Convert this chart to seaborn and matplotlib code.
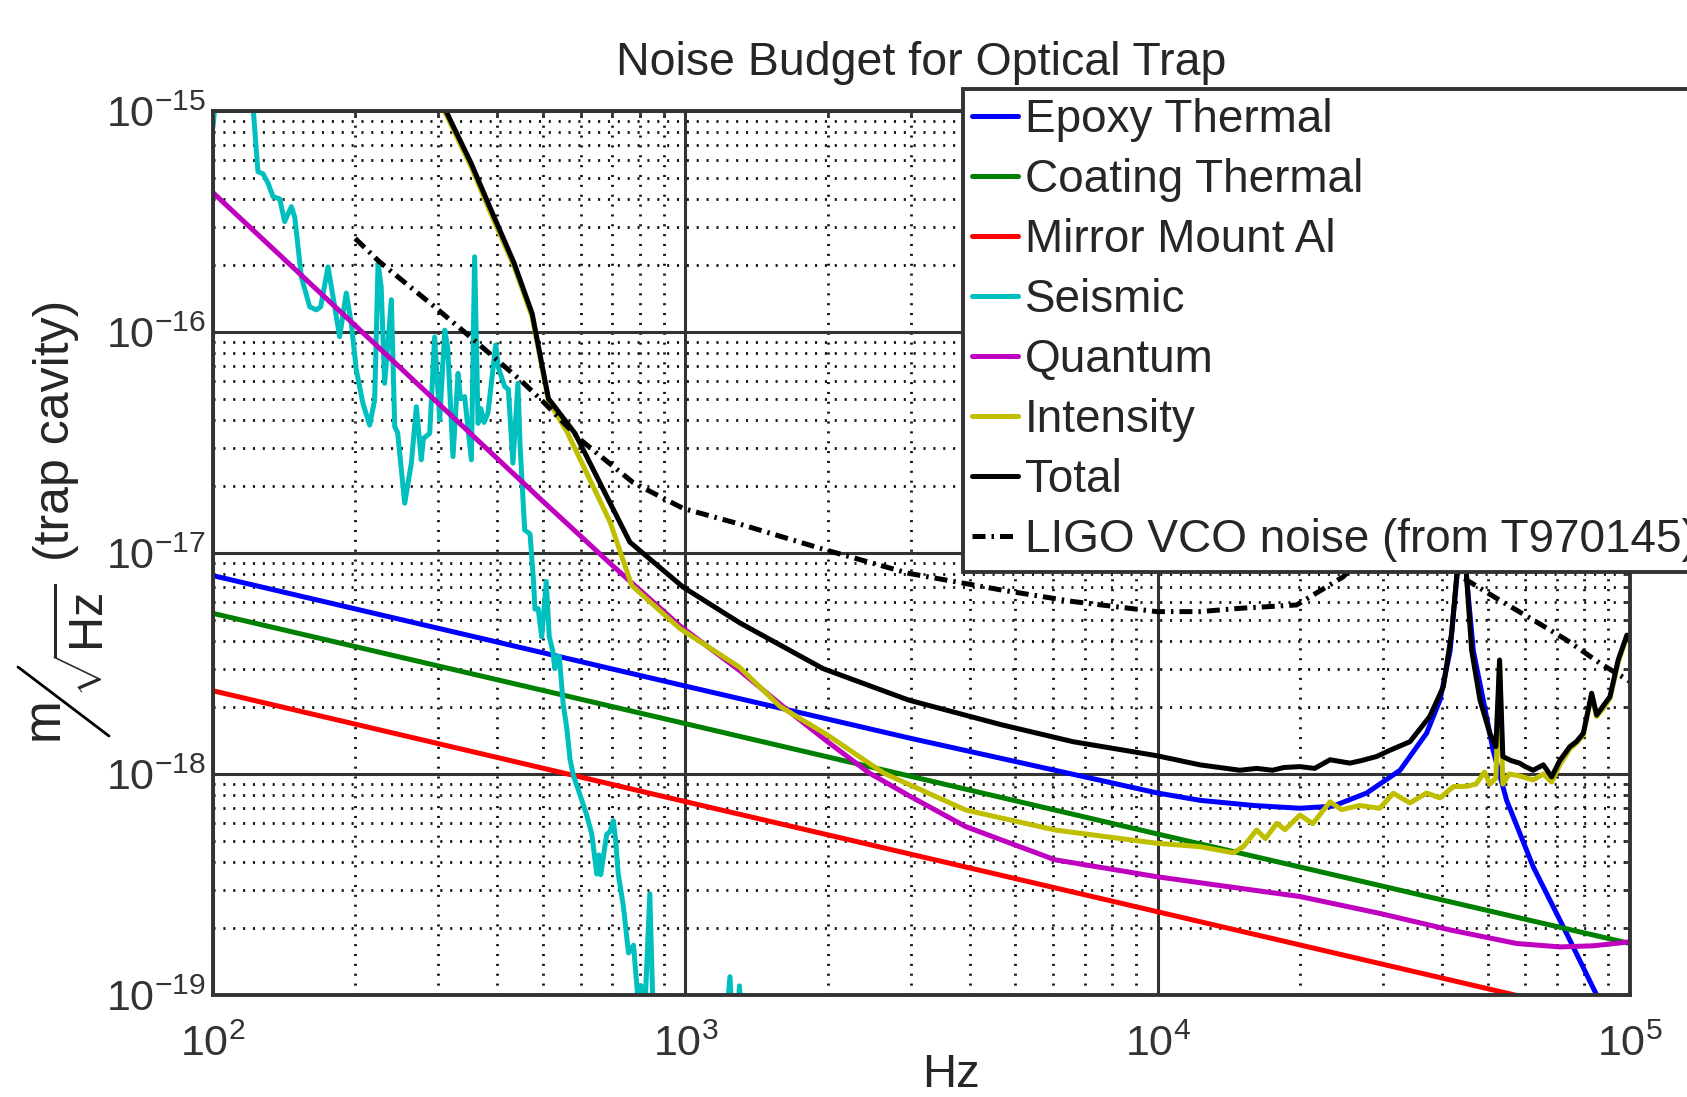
import matplotlib
matplotlib.use("Agg")
import matplotlib.pyplot as plt
import matplotlib.ticker as mticker
from matplotlib.lines import Line2D
import pandas as pd
import seaborn as sns

# values (Hz, m/rtHz)
freq_epoxy = [100, 1000, 3000, 10000, 12300, 16000, 20000, 23500, 27700, 32600, 37100,
              39600, 41600, 43000, 44000, 45100, 46600, 48900, 51300, 54800, 62400,
              73400, 85000, 100000]
epoxy = [7.9e-18, 2.5e-18, 1.45e-18, 8.2e-19, 7.6e-19, 7.2e-19, 7.0e-19, 7.15e-19, 8.2e-19,
         1.04e-18, 1.53e-18, 2.16e-18, 3.6e-18, 7.8e-18, 2.2e-17, 7.7e-18, 3.6e-18,
         2.16e-18, 1.28e-18, 7.6e-19, 3.8e-19, 1.9e-19, 1.0e-19, 5.5e-20]

freq_coating = [100, 1000, 10000, 100000]
coating = [5.33e-18, 1.69e-18, 5.35e-19, 1.71e-19]

freq_mirror = [100, 1000, 10000, 57000, 100000]
mirror = [2.38e-18, 7.5e-19, 2.38e-19, 1.0e-19, 7.5e-20]

freq_seismic = [100, 101.5, 121, 123.5, 124.5, 127.6, 130.8, 134, 138.4, 141.8, 146.5, 149,
                153.8, 160.2, 165.5, 169, 175.2, 181, 185.4, 191.5, 196.3, 201.1, 207.7,
                214.6, 219.9, 223.6, 227, 230.9, 238.6, 242.5, 246, 254.6, 263, 269.5, 276,
                279, 287.6, 294.6, 302, 309.5, 314, 322.2, 330.2, 334, 341, 352.4, 358, 364,
                369, 375, 382, 396.8, 402, 414.6, 422, 431.5, 442.2, 447, 457, 469, 476.5,
                480.5, 488, 496.5, 507.7, 515, 524.8, 529.2, 536, 541, 551.3, 561, 569.8,
                579, 598.4, 618, 634, 649.4, 656, 662, 681.6, 693, 704, 712, 721, 739, 758,
                776.7, 795.6, 806, 820, 841, 855, 900, 1200, 1243, 1270, 1302, 1330, 1400]
seismic = [8.5e-16, 1.2e-15, 1.2e-15, 6.66e-16, 5.31e-16, 5.2e-16, 4.71e-16, 4.1e-16, 4.0e-16,
           3.16e-16, 3.69e-16, 3.3e-16, 1.78e-16, 1.30e-16, 1.26e-16, 1.30e-16, 1.97e-16,
           1.30e-16, 9.53e-17, 1.50e-16, 1.09e-16, 6.73e-17, 4.75e-17, 3.79e-17, 4.92e-17,
           2.05e-16, 1.6e-16, 5.86e-17, 1.40e-16, 3.73e-17, 3.5e-17, 1.68e-17, 2.55e-17,
           4.59e-17, 2.64e-17, 3.3e-17, 3.48e-17, 9.5e-17, 4.0e-17, 1.02e-16, 8.5e-17,
           2.73e-17, 6.5e-17, 5.0e-17, 5.1e-17, 2.64e-17, 2.19e-16, 3.86e-17, 4.5e-17,
           3.9e-17, 4.3e-17, 8.73e-17, 6.9e-17, 5.66e-17, 5.5e-17, 2.55e-17, 5.86e-17,
           3.0e-17, 1.27e-17, 1.22e-17, 7.74e-18, 5.57e-18, 5.6e-18, 4.17e-18, 7.43e-18,
           4.2e-18, 3.54e-18, 3.0e-18, 3.4e-18, 3.4e-18, 2.07e-18, 1.62e-18, 1.17e-18,
           9.9e-19, 8.04e-19, 6.54e-19, 5.33e-19, 3.53e-19, 4.3e-19, 3.5e-19, 5.33e-19,
           5.5e-19, 6.15e-19, 5.0e-19, 3.53e-19, 2.54e-19, 1.55e-19, 1.68e-19, 9e-20,
           1.1e-19, 8e-20, 2.87e-19, 8e-20, 5e-20, 5e-20, 1.21e-19, 5e-20, 1.1e-19, 5e-20,
           5e-20]

freq_quantum = [100, 200, 300, 500, 700, 974, 1300, 1643, 2000, 2452, 3000, 3923, 6063, 9955,
                14930, 20010, 29530, 41590, 57540, 71100, 83700, 100000]
quantum = [4.27e-16, 1.07e-16, 4.75e-17, 1.71e-17, 8.8e-18, 4.68e-18, 2.95e-18, 1.95e-18,
           1.40e-18, 1.01e-18, 7.9e-19, 5.78e-19, 4.09e-19, 3.43e-19, 3.04e-19, 2.79e-19,
           2.34e-19, 1.97e-19, 1.71e-19, 1.65e-19, 1.67e-19, 1.74e-19]

freq_intensity = [280, 312, 352, 385, 434, 474, 513, 561, 638, 693, 770, 974, 1300, 1587,
                  2000, 2629, 3923, 6063, 9955, 12290, 14450, 15180, 16200, 16900, 17870,
                  18600, 20010, 21300, 23170, 24500, 26770, 29530, 31540, 34200, 37100,
                  39600, 42300, 45100, 47200, 49200, 50500, 52000, 52950, 53800, 55500,
                  58400, 62350, 65540, 68250, 71000, 74600, 77000, 79650, 82950, 85000,
                  88000, 90700, 94400, 98500, 100000]
intensity = [1.45e-15, 9.6e-16, 5.6e-16, 3.55e-16, 1.98e-16, 1.17e-16, 4.9e-17, 3.55e-17,
             2.0e-17, 1.38e-17, 7.13e-18, 4.55e-18, 3.05e-18, 2.02e-18, 1.5e-18, 1.01e-18,
             6.87e-19, 5.58e-19, 4.86e-19, 4.69e-19, 4.4e-19, 4.69e-19, 5.58e-19, 5.1e-19,
             5.98e-19, 5.6e-19, 6.52e-19, 5.96e-19, 7.48e-19, 6.9e-19, 7.2e-19, 7.0e-19,
             8.18e-19, 7.4e-19, 8.2e-19, 7.8e-19, 8.77e-19, 8.8e-19, 9.0e-19, 1.02e-18,
             9.0e-19, 9.6e-19, 3.2e-18, 9.0e-19, 1.0e-18, 9.8e-19, 9.4e-19, 1.0e-18,
             9.2e-19, 1.1e-18, 1.3e-18, 1.38e-18, 1.5e-18, 2.28e-18, 1.82e-18, 2.0e-18,
             2.2e-18, 3.2e-18, 4.2e-18, 3.95e-18]

freq_total = [280, 312, 352, 385, 434, 474, 513, 584, 682, 763, 990, 1306, 1956, 2970, 4672,
              6621, 9955, 12290, 14930, 16200, 17500, 18500, 20010, 21500, 23170, 25530,
              27000, 29080, 31020, 34200, 37670, 40250, 41900, 43000, 44000, 45080, 46200,
              48130, 50480, 52000, 52950, 53800, 56000, 58370, 60000, 62350, 65540, 68250,
              71000, 74600, 77000, 79650, 82950, 85000, 88000, 90700, 94400, 98500, 100000]
total = [1.5e-15, 9.9e-16, 5.8e-16, 3.7e-16, 2.05e-16, 1.21e-16, 5.0e-17, 3.48e-17, 1.80e-17,
         1.12e-17, 7.0e-18, 4.82e-18, 3.0e-18, 2.16e-18, 1.67e-18, 1.40e-18, 1.21e-18,
         1.1e-18, 1.04e-18, 1.06e-18, 1.04e-18, 1.07e-18, 1.08e-18, 1.06e-18, 1.16e-18,
         1.12e-18, 1.15e-18, 1.20e-18, 1.28e-18, 1.40e-18, 1.82e-18, 2.48e-18, 4.33e-18,
         8e-18, 2.2e-17, 7.8e-18, 3.64e-18, 2.16e-18, 1.53e-18, 1.33e-18, 3.28e-18, 1.2e-18,
         1.15e-18, 1.12e-18, 1.08e-18, 1.04e-18, 1.1e-18, 9.7e-19, 1.15e-18, 1.33e-18,
         1.4e-18, 1.53e-18, 2.32e-18, 1.85e-18, 2.05e-18, 2.24e-18, 3.28e-18, 4.25e-18,
         4.0e-18]

freq_vco = [200, 225, 292, 350, 447, 496, 598, 776, 990, 1306, 1990, 2970, 4672, 6621, 9955,
            12290, 14930, 19690, 24700, 30000, 37000, 44400, 52950, 62350, 73400, 86400,
            100000]
vco = [2.65e-16, 2.08e-16, 1.32e-16, 9.53e-17, 6.07e-17, 4.92e-17, 3.27e-17, 2.08e-17,
       1.59e-17, 1.35e-17, 1.03e-17, 8.09e-18, 6.8e-18, 6.03e-18, 5.43e-18, 5.43e-18,
       5.62e-18, 5.82e-18, 7.8e-18, 1.2e-17, 1.2e-17, 7.7e-18, 6.12e-18, 4.98e-18,
       4.04e-18, 3.17e-18, 2.62e-18]

series = [
    ("Epoxy Thermal", freq_epoxy, epoxy, "#0000ff"),
    ("Coating Thermal", freq_coating, coating, "#008000"),
    ("Mirror Mount Al", freq_mirror, mirror, "#ff0000"),
    ("Seismic", freq_seismic, seismic, "#00bfbf"),
    ("Quantum", freq_quantum, quantum, "#bf00bf"),
    ("Intensity", freq_intensity, intensity, "#bfbf00"),
    ("Total", freq_total, total, "#000000"),
    ("LIGO VCO noise (from T970145)", freq_vco, vco, "#000000"),
]

sns.set_style("white")
plt.rcParams["font.family"] = ["Liberation Sans", "DejaVu Sans"]
plt.rcParams["mathtext.fontset"] = "custom"
plt.rcParams["mathtext.rm"] = "Liberation Sans"
plt.rcParams["mathtext.it"] = "Liberation Sans:italic"
plt.rcParams["mathtext.bf"] = "Liberation Sans:bold"

W, H = 1687, 1097
fig = plt.figure(figsize=(W / 100, H / 100), dpi=100)
ax = fig.add_axes([213 / W, 1 - 995 / H, 1417 / W, 884 / H])
ax.set_xscale("log")
ax.set_yscale("log")

for name, f, v, color in series:
    df = pd.DataFrame({"Hz": f, "noise": v})
    sns.lineplot(data=df, x="Hz", y="noise", ax=ax, color=color, label=name,
                 estimator=None, sort=False)
for line in ax.lines:
    line.set_linewidth(3.6)
    line.set_solid_joinstyle("round")
ax.lines[-1].set_linestyle((0, (2.6, 1.2, 0.5, 1.2)))

ax.set_xlim(1e2, 1e5)
ax.set_ylim(1e-19, 1e-15)
ax.xaxis.set_major_locator(mticker.LogLocator(base=10, numticks=10))
ax.yaxis.set_major_locator(mticker.LogLocator(base=10, numticks=10))
ax.xaxis.set_minor_locator(mticker.LogLocator(base=10, subs=range(2, 10), numticks=20))
ax.yaxis.set_minor_locator(mticker.LogLocator(base=10, subs=range(2, 10), numticks=20))
ax.xaxis.set_minor_formatter(mticker.NullFormatter())
ax.yaxis.set_minor_formatter(mticker.NullFormatter())

ax.grid(which="major", color="#333333", linewidth=2.2, linestyle="-")
ax.grid(which="minor", color="#111111", linewidth=2.0, linestyle=(0, (0.75, 2.8)))

ax.tick_params(which="both", direction="in", top=True, right=True, color="#333333",
               width=2.0, labelsize=31, labelcolor="#333333")
ax.tick_params(which="major", length=9)
ax.tick_params(which="minor", length=4.5)
ax.tick_params(axis="x", pad=21)
ax.tick_params(axis="y", pad=5)
for s in ax.spines.values():
    s.set_color("#333333")
    s.set_linewidth(2.8)

ax.set_title("Noise Budget for Optical Trap", fontsize=33.5, pad=26)
ax.set_xlabel("Hz", fontsize=34)
ax.xaxis.set_label_coords(0.521, -0.066)
ax.set_ylabel("")

# y label: m / sqrt(Hz) (trap cavity), rotated like the reference
fig.text(56 / W, 1 - 430 / H, "(trap cavity)", rotation=90, fontsize=36,
         ha="center", va="center")
fig.text(44 / W, 1 - 719 / H, "m", rotation=90, fontsize=37, ha="center", va="center")
fig.text(86 / W, 1 - 640 / H, r"$\sqrt{\mathrm{Hz}}$", rotation=90, fontsize=35,
         ha="center", va="center")
fig.add_artist(Line2D([18 / W, 109 / W], [1 - 667 / H, 1 - 736 / H], color="black",
                      linewidth=2.0, transform=fig.transFigure))

leg = ax.legend(loc="upper left", bbox_to_anchor=(963 / W, 1 - 89 / H),
                bbox_transform=fig.transFigure, fontsize=33, frameon=True,
                fancybox=False, framealpha=1, edgecolor="#333333", borderpad=0.2,
                labelspacing=0.35, handlelength=1.0, handletextpad=0.15, borderaxespad=0)
leg.get_frame().set_linewidth(2.8)

fig.savefig("out.png", dpi=100)
